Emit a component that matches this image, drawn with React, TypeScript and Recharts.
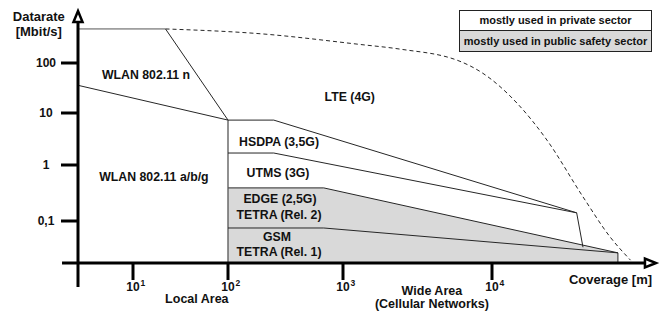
import React from 'react';
import { ComposedChart, Line, Area, XAxis, YAxis, ReferenceLine, ReferenceDot, Legend } from 'recharts';

const FONT = '"Liberation Sans", Arial, Helvetica, sans-serif';

// Schematic (non-uniform) logarithmic axes: decade -> tick position calibration
const X_DECADES: [number, number][] = [[1, 133], [2, 228], [3, 343], [4, 492]];
const Y_DECADES: [number, number][] = [[-1, 221], [0, 165], [1, 113], [2, 63]];

const X_TICKS = [10, 100, 1000, 10000];
const Y_TICKS = [0.1, 1, 10, 100];
const Y_TICK_LABELS = ['0,1', '1', '10', '100'];

// Boundaries (coverage [m], datarate [Mbit/s])
const WLAN_N_TOP = [{ x: 2.6, y: 480 }, { x: 22, y: 480 }];
const WLAN_N_RIGHT = [{ x: 22, y: 480 }, { x: 100, y: 7.3 }];
const WLAN_ABG_TOP = [{ x: 2.6, y: 36 }, { x: 100, y: 7.3 }];
const CELL_LEFT = [{ x: 100, y: 7.3 }, { x: 100, y: 0.0178 }];
const HSDPA_TOP = [{ x: 100, y: 7.3 }, { x: 250, y: 7.3 }, { x: 37000, y: 0.14 }];
const UTMS_TOP = [{ x: 100, y: 1.7 }, { x: 250, y: 1.7 }, { x: 37000, y: 0.14 }];
const UTMS_END = [{ x: 37000, y: 0.14 }, { x: 40800, y: 0.034 }];
const EDGE_TOP = [{ x: 100, y: 0.39 }, { x: 680, y: 0.39 }, { x: 70000, y: 0.027 }];
const GSM_TOP = [{ x: 100, y: 0.075 }, { x: 680, y: 0.075 }, { x: 70000, y: 0.027 }];
const PUBLIC_END = [{ x: 70000, y: 0.027 }, { x: 70000, y: 0.0178 }];
const LTE_LIMIT = [
  { x: 22, y: 480 }, { x: 190, y: 385 }, { x: 1300, y: 235 }, { x: 2400, y: 190 },
  { x: 6100, y: 108 }, { x: 8700, y: 62 }, { x: 14700, y: 15.8 }, { x: 23400, y: 3.0 },
  { x: 40800, y: 0.27 }, { x: 62000, y: 0.052 }, { x: 85000, y: 0.02 },
];

const REGION_LABELS = [
  { text: 'WLAN 802.11 n', x: 13.7, y: 48 },
  { text: 'WLAN 802.11 a/b/g', x: 16.6, y: 0.52 },
  { text: 'LTE (4G)', x: 1110, y: 17.4 },
  { text: 'HSDPA (3,5G)', x: 278, y: 2.3 },
  { text: 'UTMS (3G)', x: 272, y: 0.61 },
  { text: 'EDGE (2,5G)', x: 283, y: 0.21 },
  { text: 'TETRA (Rel. 2)', x: 278, y: 0.109 },
  { text: 'GSM', x: 267, y: 0.044 },
  { text: 'TETRA (Rel. 1)', x: 278, y: 0.0237 },
];

const AXIS_LABELS = [
  { text: 'Datarate', x: 1.02, y: 692, size: 13, anchor: 'middle' },
  { text: '[Mbit/s]', x: 1.02, y: 347, size: 13, anchor: 'middle' },
  { text: 'Coverage [m]', x: 118600, y: 0.0075, size: 13, anchor: 'end' },
  { text: 'Local Area', x: 47, y: 0.00344, size: 12.5, anchor: 'middle' },
  { text: 'Wide Area', x: 3950, y: 0.00478, size: 12.5, anchor: 'middle' },
  { text: '(Cellular Networks)', x: 3950, y: 0.0028, size: 12.5, anchor: 'middle' },
];

const LEGEND_ROWS = ['mostly used in private sector', 'mostly used in public safety sector'];

const X_AXIS_SPAN = [1.79, 126000];
const Y_AXIS_SPAN = [0.0066, 1096];

function interp(a: [number, number][], l: number) {
  const n = a.length;
  let i = 0;
  if (l >= a[n - 1][0]) i = n - 2;
  else if (l > a[0][0]) { while (i < n - 2 && l > a[i + 1][0]) i++; }
  const [l0, p0] = a[i];
  const [l1, p1] = a[i + 1];
  return p0 + ((l - l0) * (p1 - p0)) / (l1 - l0);
}
function invInterp(a: [number, number][], p: number) {
  const flipped = a.map(([l, q]) => [q, l] as [number, number]);
  if (flipped[0][0] > flipped[flipped.length - 1][0]) flipped.reverse();
  return interp(flipped, p);
}
function makeScale(anchors: [number, number][]) {
  const w = (v: number) => interp(anchors, Math.log10(v));
  const create = (dom: number[], rng: number[]): any => {
    const s: any = (v: number) => {
      const a = w(dom[0]);
      const b = w(dom[1]);
      return rng[0] + ((w(v) - a) / (b - a)) * (rng[1] - rng[0]);
    };
    s.domain = (...args: any[]) => { if (!args.length) return dom.slice(); dom = args[0].map(Number); return s; };
    s.range = (...args: any[]) => { if (!args.length) return rng.slice(); rng = args[0].map(Number); return s; };
    s.copy = () => create(dom.slice(), rng.slice());
    s.ticks = () => {
      const out: number[] = [];
      for (let e = Math.ceil(Math.log10(dom[0])); e <= Math.floor(Math.log10(dom[1])); e++) out.push(10 ** e);
      return out;
    };
    s.tickFormat = () => (d: number) => String(d);
    s.invert = (px: number) => {
      const a = w(dom[0]);
      const b = w(dom[1]);
      return 10 ** invInterp(anchors, a + ((px - rng[0]) / (rng[1] - rng[0])) * (b - a));
    };
    s.clamp = (...args: any[]) => (args.length ? s : false);
    s.nice = () => s;
    return s;
  };
  return create([1, 10], [0, 1]);
}

const W = 660;
const H = 316;
const MARGIN = { top: 11, right: 18, bottom: 13, left: 0 };
const X_AXIS_H = 40;
const Y_AXIS_W = 78;
const xScale = makeScale(X_DECADES);
const yScale = makeScale(Y_DECADES);
const xDomain = [10 ** invInterp(X_DECADES, Y_AXIS_W), 10 ** invInterp(X_DECADES, W - MARGIN.right)];
const yDomain = [10 ** invInterp(Y_DECADES, H - MARGIN.bottom - X_AXIS_H), 10 ** invInterp(Y_DECADES, MARGIN.top)];

const XTick = (props: any) => {
  const { x, y, payload } = props;
  const exp = Math.round(Math.log10(payload.value));
  return (
    <g>
      <text x={x} y={y + 11} textAnchor="middle" fontFamily={FONT} fontWeight={700} fontSize={12} fill="#111">10</text>
      <text x={x + 7.5} y={y + 6} textAnchor="start" fontFamily={FONT} fontWeight={700} fontSize={8.5} fill="#111">{exp}</text>
    </g>
  );
};

const YTick = (props: any) => {
  const { x, y, payload } = props;
  const idx = Y_TICKS.indexOf(payload.value);
  return (
    <text x={x - 15} y={y + 4.3} textAnchor="middle" fontFamily={FONT} fontWeight={700} fontSize={12} fill="#111">
      {idx >= 0 ? Y_TICK_LABELS[idx] : String(payload.value)}
    </text>
  );
};

const arrowShape = (props: any) => {
  const { x1, y1, x2, y2 } = props;
  const dx = x2 - x1;
  const dy = y2 - y1;
  const len = Math.hypot(dx, dy) || 1;
  const ux = dx / len;
  const uy = dy / len;
  const head = 11;
  const half = 4.5;
  const bx = x2 - ux * head;
  const by = y2 - uy * head;
  const px = -uy;
  const py = ux;
  return (
    <g>
      <defs>
        <filter id="axisShadow" x="-10%" y="-200%" width="120%" height="500%">
          <feGaussianBlur stdDeviation="2" />
        </filter>
      </defs>
      <line x1={x1 + 2} y1={y1 + 3} x2={bx + 2} y2={by + 3} stroke="#000" strokeOpacity={0.35} strokeWidth={3} filter="url(#axisShadow)" />
      <line x1={x1} y1={y1} x2={bx} y2={by} stroke="#000" strokeWidth={3} />
      <polygon
        points={`${x2},${y2} ${bx + px * half},${by + py * half} ${bx - px * half},${by - py * half}`}
        fill="#fff"
        stroke="#000"
        strokeWidth={2.5}
      />
    </g>
  );
};

const textShape = (text: string, size: number, anchor: string) => (p: any) => (
  <text x={p.cx} y={p.cy} textAnchor={anchor as any} fontFamily={FONT} fontWeight={700} fontSize={size} fill="#111">
    {text}
  </text>
);

const LegendBox = () => (
  <div
    style={{
      width: 193,
      border: '1.5px solid #222',
      boxSizing: 'border-box',
      fontFamily: FONT,
      fontWeight: 700,
      fontSize: 11,
      color: '#111',
    }}
  >
    <div style={{ height: 19, lineHeight: '19px', textAlign: 'center', background: '#fff' }}>{LEGEND_ROWS[0]}</div>
    <div style={{ height: 20, lineHeight: '20px', textAlign: 'center', background: '#d9d9d9', borderTop: '1.5px solid #222' }}>
      {LEGEND_ROWS[1]}
    </div>
  </div>
);

const lineCommon = {
  type: 'linear' as const,
  dataKey: 'y',
  stroke: '#262626',
  strokeWidth: 1,
  dot: false,
  activeDot: false,
  isAnimationActive: false,
  legendType: 'none' as const,
};

export default function App() {
  return (
    <div style={{ position: 'absolute', left: 0, top: 0, width: W, height: H, background: '#fff' }}>
      <ComposedChart width={W} height={H} margin={MARGIN}>
        <XAxis
          type="number"
          dataKey="x"
          scale={xScale}
          domain={xDomain}
          allowDataOverflow
          ticks={X_TICKS}
          tick={<XTick />}
          tickSize={17}
          tickMargin={0}
          tickLine={{ stroke: '#000', strokeWidth: 3 }}
          axisLine={false}
          height={X_AXIS_H}
          interval={0}
        />
        <YAxis
          type="number"
          dataKey="y"
          scale={yScale}
          domain={yDomain}
          allowDataOverflow
          ticks={Y_TICKS}
          tick={<YTick />}
          tickSize={17}
          tickMargin={0}
          tickLine={{ stroke: '#000', strokeWidth: 3 }}
          axisLine={false}
          width={Y_AXIS_W}
          interval={0}
        />
        <Area
          data={EDGE_TOP}
          type="linear"
          dataKey="y"
          fill="#d9d9d9"
          fillOpacity={1}
          stroke="#262626"
          strokeWidth={1}
          dot={false}
          activeDot={false}
          isAnimationActive={false}
          legendType="none"
        />
        <Line {...lineCommon} data={WLAN_N_TOP} name="top" stroke="#555" />
        <Line {...lineCommon} data={WLAN_N_RIGHT} name="wlan-n" />
        <Line {...lineCommon} data={WLAN_ABG_TOP} name="wlan-abg" />
        <Line {...lineCommon} data={CELL_LEFT} name="cell-left" stroke="#555" strokeWidth={1.3} />
        <Line {...lineCommon} data={HSDPA_TOP} name="hsdpa" />
        <Line {...lineCommon} data={UTMS_TOP} name="utms" />
        <Line {...lineCommon} data={UTMS_END} name="utms-end" />
        <Line {...lineCommon} data={GSM_TOP} name="gsm" />
        <Line {...lineCommon} data={PUBLIC_END} name="public-end" />
        <Line {...lineCommon} data={LTE_LIMIT} name="lte" type="monotone" strokeDasharray="4 3" />
        <ReferenceLine
          segment={[{ x: xDomain[0], y: Y_AXIS_SPAN[0] }, { x: xDomain[0], y: Y_AXIS_SPAN[1] }]}
          ifOverflow="visible"
          shape={arrowShape}
        />
        <ReferenceLine
          segment={[{ x: X_AXIS_SPAN[0], y: yDomain[0] }, { x: X_AXIS_SPAN[1], y: yDomain[0] }]}
          ifOverflow="visible"
          shape={arrowShape}
        />
        {REGION_LABELS.map((l) => (
          <ReferenceDot key={l.text} x={l.x} y={l.y} r={0} ifOverflow="visible" shape={textShape(l.text, 12.3, 'middle')} />
        ))}
        {AXIS_LABELS.map((l) => (
          <ReferenceDot key={l.text} x={l.x} y={l.y} r={0} ifOverflow="visible" shape={textShape(l.text, l.size, l.anchor)} />
        ))}
        <Legend
          layout="vertical"
          align="center"
          verticalAlign="middle"
          content={<LegendBox />}
          wrapperStyle={{ left: 459, top: 10, width: 193 }}
        />
      </ComposedChart>
    </div>
  );
}
